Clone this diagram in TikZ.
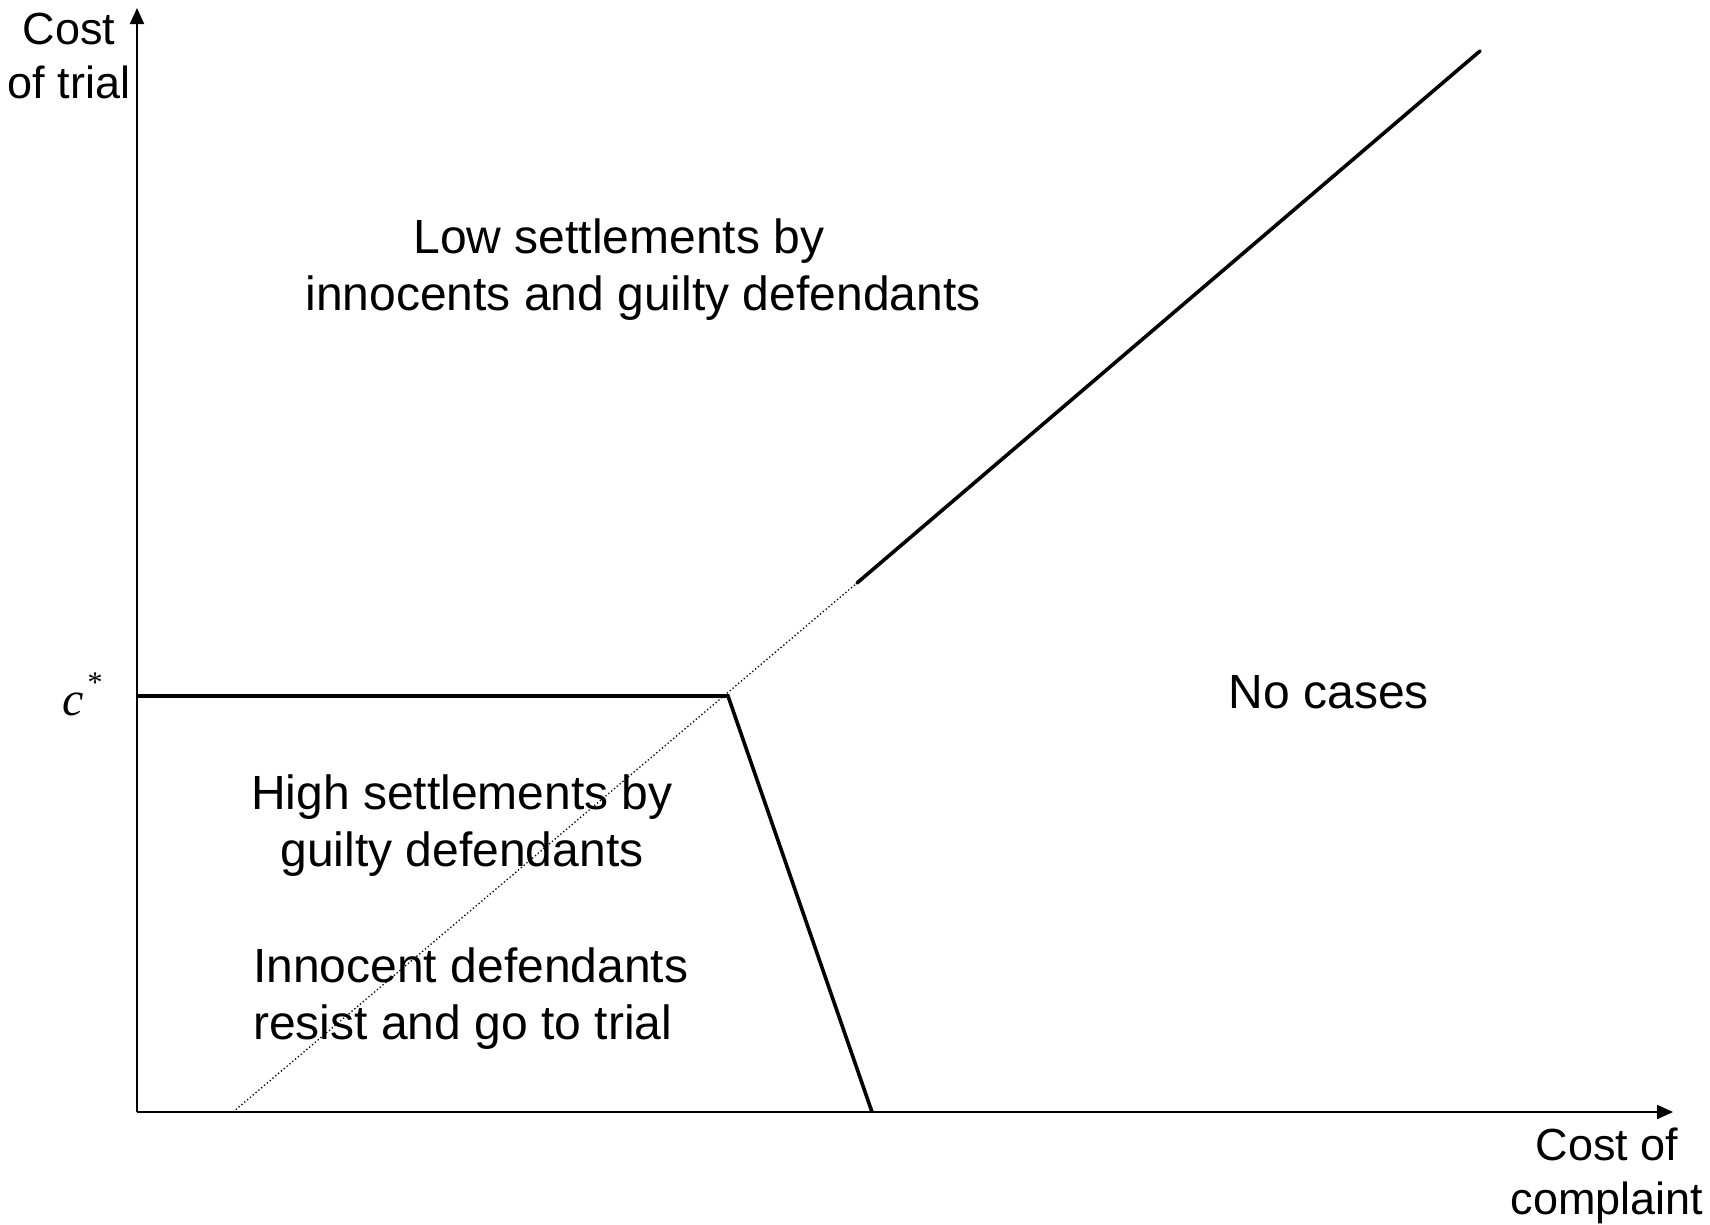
\documentclass[tikz,border=0pt]{standalone}
\usepackage{fontspec}
\setmainfont{Liberation Sans}
\newfontfamily\cstarfont{Liberation Serif}
\usepackage{tikz}
\usetikzlibrary{arrows.meta}
\definecolor{linecolor}{RGB}{0,0,0}

\tikzset{
  axisline/.style={line width=2pt, linecolor, -{Triangle[length=16pt,width=14pt]}},
  borderline/.style={line width=3.6pt, linecolor},
  guideline/.style={line width=1.3pt, linecolor, dash pattern=on 1.3pt off 2.4pt},
  regiontext/.style={font=\fontsize{48}{57}\selectfont, inner sep=0pt},
  axistext/.style={font=\fontsize{45}{54}\selectfont, inner sep=0pt}
}

\begin{document}
\begin{tikzpicture}[x=1pt,y=-1pt]
      \useasboundingbox (0,0) rectangle (1710,1224);
      \coordinate (origin) at (137,1112);
      \coordinate (ytip) at (137,8);
      \coordinate (xtip) at (1673,1112);
      \coordinate (cstarleft) at (137,696);
      \coordinate (kink) at (728,696);
      \coordinate (kinkbase) at (872,1112);
      \coordinate (dotlow) at (233,1112);
      \coordinate (dothigh) at (857,583);
      \coordinate (lineend) at (1480,51);
      \draw[axisline] (origin) -- (ytip);
      \draw[axisline] (origin) -- (xtip);
      \draw[guideline] (dotlow) -- (dothigh);
      \draw[borderline] (cstarleft) -- (kink) -- (kinkbase);
      \draw[borderline, line cap=round] (dothigh) -- (lineend);
      \node[axistext, align=center] (ylabel) at (69,56) {Cost\\of trial};
      \node[axistext, align=center] (xlabel) at (1607,1176) {Cost of\\complaint};
      \node[inner sep=0pt, anchor=base west] (cstar) at (62,715) {\cstarfont\fontsize{48}{48}\selectfont\itshape c\hspace{4pt}\raisebox{23pt}{\upshape\fontsize{30}{30}\selectfont *}};
      \node[regiontext, align=center] (lowsettle) at (643,270) {Low settlements by\hspace*{1em}\\innocents and guilty defendants};
      \node[regiontext] (nocases) at (1329,692) {No cases};
      \node[regiontext, align=center] (highsettle) at (462,826) {High settlements by\\guilty defendants};
      \node[regiontext, align=left, anchor=west] (innocent) at (253,999) {Innocent defendants\\resist and go to trial};
    \end{tikzpicture}
\end{document}
